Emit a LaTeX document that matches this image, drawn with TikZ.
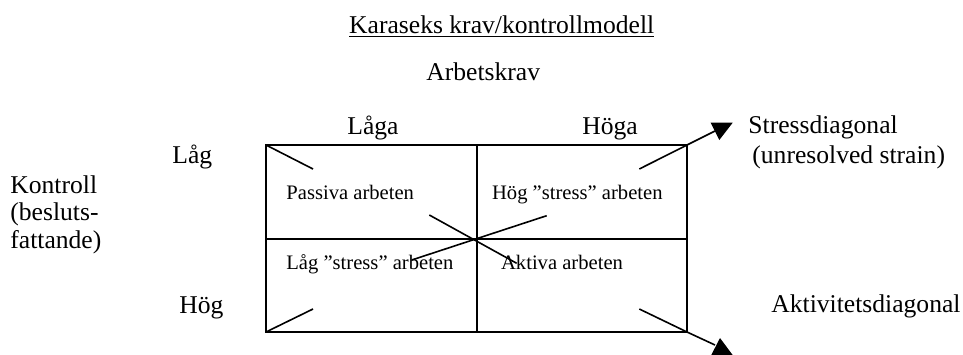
\documentclass[tikz,border=0pt]{standalone}
\usepackage{fontspec}
\setmainfont{Liberation Serif}
\usetikzlibrary{calc}

\begin{document}
\begin{tikzpicture}[x=0.5pt,y=-0.5pt]
		\useasboundingbox (0,0) rectangle (963,354);
		% rubriker och axeltexter
		\begin{scope}[every node/.style={inner sep=0,anchor=base west,font=\fontsize{12.8}{13.75}\selectfont}]
		\node[anchor=base] (titel) at (501.7,33) {\underline{Karaseks krav/kontrollmodell}};
		\node (krav) at (426,80) {Arbetskrav};
		\node (laga) at (347,134) {Låga};
		\node (hoga) at (582,134) {Höga};
		\node (lag) at (172,163) {Låg};
		\node (hog) at (179,313) {Hög};
		\node[align=left] (kontroll) at (10,248) {Kontroll\\(besluts-\\fattande)};
		\node[align=left] (stress) at (748,163) {Stressdiagonal\\[1.25pt]\hspace*{2pt}(unresolved strain)};
		\node (aktivitet) at (771,312) {Aktivitetsdiagonal};
		\end{scope}
		
		% rutorna
		\begin{scope}[every node/.style={inner sep=0,anchor=base west,font=\fontsize{10.3}{12}\selectfont}]
		\node (passiv) at (286,199) {Passiva arbeten};
		\node (hogstress) at (491.7,199) {Hög ”stress” arbeten};
		\node (lagstress) at (286,269) {Låg ”stress” arbeten};
		\node (aktiv) at (500.7,269) {Aktiva arbeten};
		\end{scope}
		
		\coordinate (tl) at (266,145);
		\coordinate (tm) at (476.7,145);
		\coordinate (tr) at (687,145);
		\coordinate (ml) at (266,238.7);
		\coordinate (mr) at (687,238.7);
		\coordinate (bl) at (266,332);
		\coordinate (bm) at (476.7,332);
		\coordinate (br) at (687,332);
		\coordinate (spil) at (715,131);
		\coordinate (apil) at (715,345);
		
		\draw[line width=1pt] (tl) rectangle (br);
		\draw[line width=1pt] (tm) -- (bm);
		\draw[line width=1pt] (ml) -- (mr);
		
		% stressdiagonalen
		\draw[line width=0.8pt] (bl) -- (313,309);
		\draw[line width=0.8pt] (411.7,260) -- (546.7,215.7);
		\draw[line width=0.8pt] (639.3,169) -- (tr) -- (spil);
		\fill (spil) ++(-4.3,-8.3) -- ++(22,0) -- ++(-13.4,17.3) -- cycle;
		
		% aktivitetsdiagonalen
		\draw[line width=0.8pt] (tl) -- (313,169);
		\draw[line width=0.8pt] (429.3,215) -- (516.7,263.3);
		\draw[line width=0.8pt] (639.3,309) -- (br) -- (apil);
		\fill (apil) ++(5,-7) -- ++(13,17.5) -- ++(-22,0) -- cycle;
		
		\end{tikzpicture}
\end{document}
